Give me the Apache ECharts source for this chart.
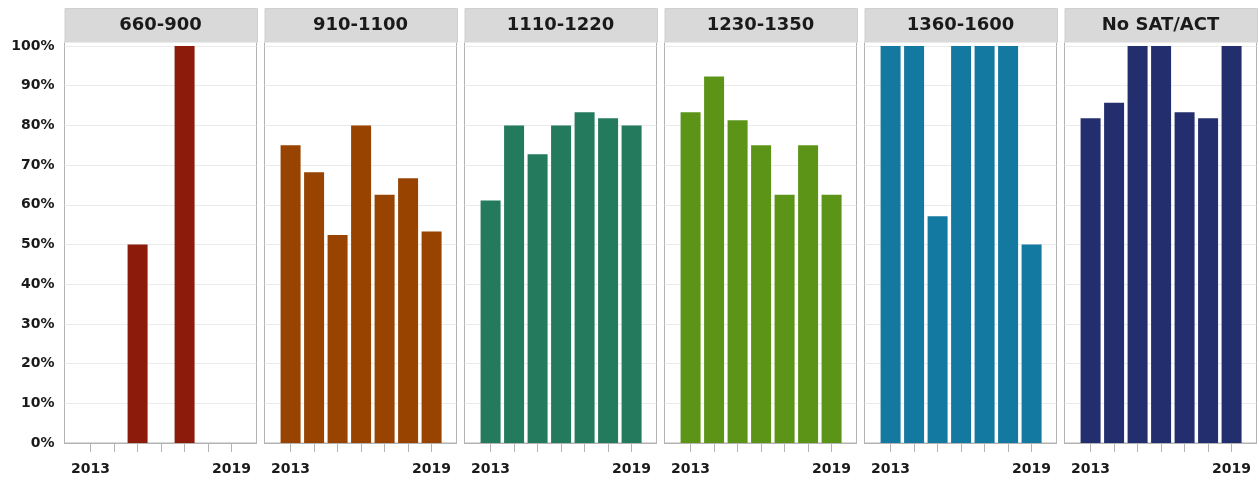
<!DOCTYPE html>
<html>
<head>
<meta charset="utf-8">
<script src="https://cdn.jsdelivr.net/npm/echarts@6/dist/echarts.min.js"></script>
<style>
html,body{margin:0;padding:0;background:#fff;}
#c{width:1259px;height:485px;}
</style>
</head>
<body>
<div id="c"></div>
<script>
const years = [2013, 2014, 2015, 2016, 2017, 2018, 2019];
const panels = ["660-900", "910-1100", "1110-1220", "1230-1350", "1360-1600", "No SAT/ACT"];
const v660 = [null, null, 50, null, 100, null, null];
const v910 = [75, 68.2, 52.4, 80, 62.5, 66.7, 53.3];
const v1110 = [61.1, 80, 72.7, 80, 83.3, 81.8, 80];
const v1230 = [83.3, 92.3, 81.3, 75, 62.5, 75, 62.5];
const v1360 = [100, 100, 57.1, 100, 100, 100, 50];
const vNone = [81.8, 85.7, 100, 100, 83.3, 81.8, 100];
const yTicks = [0, 10, 20, 30, 40, 50, 60, 70, 80, 90, 100];
const yearLabels = [2013, 2019];

const values = [v660, v910, v1110, v1230, v1360, vNone];
const colors = ["#8c1b0c", "#984300", "#237a5c", "#5c9418", "#1479a1", "#232e6e"];

const FONT = "DejaVu Sans";
const grids = [], xAxes = [], yAxes = [], series = [], graphics = [];
const panelLeft = 64.5, panelStep = 200, panelW = 192, plotTop = 42, plotBottom = 443;

panels.forEach((name, i) => {
  const left = panelLeft + panelStep * i;
  grids.push({
    left: left, top: plotTop, width: panelW, height: plotBottom - plotTop,
    show: true, borderColor: "#b3b3b3", borderWidth: 1, backgroundColor: "#fff"
  });
  xAxes.push({
    type: "value", gridIndex: i, min: 2011.89, max: 2020.06,
    axisLine: { show: true, lineStyle: { color: "#b3b3b3" } },
    axisTick: { show: true, customValues: years, length: 9, lineStyle: { color: "#b3b3b3" } },
    axisLabel: { show: true, customValues: yearLabels, margin: 19,
      fontFamily: FONT, fontWeight: "bold", fontSize: 14, color: "#1a1a1a",
      formatter: v => String(v) },
    splitLine: { show: false }
  });
  yAxes.push({
    type: "value", gridIndex: i, min: 0, max: 101, interval: 10,
    axisLine: { show: false }, axisTick: { show: false },
    axisLabel: { show: i === 0, showMaxLabel: false, margin: 10,
      fontFamily: FONT, fontWeight: "bold", fontSize: 14, color: "#1a1a1a",
      formatter: v => yTicks.indexOf(v) >= 0 ? v + "%" : "" },
    splitLine: { show: true, lineStyle: { color: "#ebebeb", width: 1 } }
  });
  series.push({
    type: "bar", xAxisIndex: i, yAxisIndex: i, barWidth: 20,
    itemStyle: { color: colors[i] },
    data: years.map((y, k) => values[i][k] == null ? null : [y, values[i][k]]).filter(d => d)
  });
  graphics.push({
    type: "rect", left: left, top: 8,
    shape: { width: panelW + 0.5, height: 34 },
    style: { fill: "#d9d9d9", stroke: "#cfcfcf" }
  });
  graphics.push({
    type: "text", x: left + panelW / 2, y: 25,
    style: { text: name, fill: "#1a1a1a", font: "bold 18px '" + FONT + "'",
      textAlign: "center", textVerticalAlign: "middle" }
  });
});

const chart = echarts.init(document.getElementById("c"), null, { renderer: "canvas" });
chart.setOption({
  animation: false,
  backgroundColor: "#fff",
  grid: grids, xAxis: xAxes, yAxis: yAxes, series: series,
  graphic: graphics
});
</script>
</body>
</html>
